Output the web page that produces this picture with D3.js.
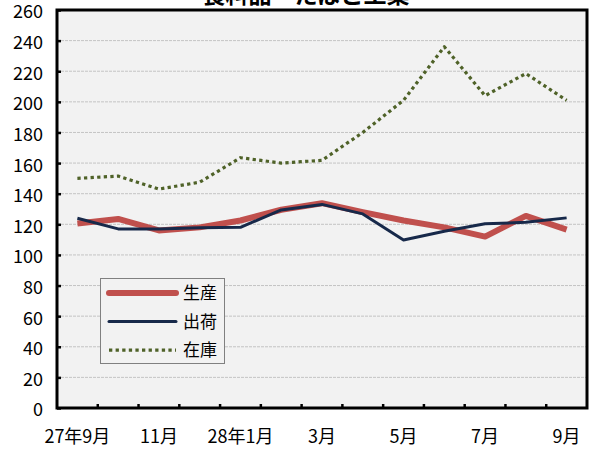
<!DOCTYPE html>
<html>
<head>
<meta charset="utf-8">
<script src="https://cdn.jsdelivr.net/npm/d3@7"></script>
<style>
  body { margin: 0; background: #fff; }
  svg { display: block; font-family: "Noto Sans CJK JP", "DejaVu Sans", sans-serif; }
</style>
</head>
<body>
<svg id="chart"></svg>
<script>
"use strict";

// months on the x axis (labels shown every other month)
var months = ["27年9月", "10月", "11月", "12月", "28年1月", "2月", "3月", "4月", "5月", "6月", "7月", "8月", "9月"];
var shownLabels = ["27年9月", "11月", "28年1月", "3月", "5月", "7月", "9月"];

var production = [120.5, 123.5, 116, 118, 122.5, 129.5, 133.8, 128, 122.5, 118, 112, 125.5, 116.5];
var shipment   = [124, 117, 117, 117.8, 118, 129.4, 133, 126.8, 109.8, 115.5, 120.3, 121.3, 124.2];
var inventory  = [150, 151.5, 143, 147.5, 163.5, 160, 161.8, 180, 201, 236, 204, 218.5, 201];

var yTicks = d3.range(0, 261, 20);

var seriesList = [
    {name: "生産", values: production, color: "#c0504d", width: 6, dash: null},
    {name: "出荷", values: shipment,   color: "#17294a", width: 3, dash: null},
    {name: "在庫", values: inventory,  color: "#4f6228", width: 3.2, dash: "3.3,3.3"}
];

var width = 592, height = 450;
var plotLeft = 57, plotRight = 587, plotTop = 10, plotBottom = 408;

var svg = d3.select("#chart")
    .attr("width", width)
    .attr("height", height);

// title, mostly cut off at the top edge
svg.append("text")
    .attr("x", 306)
    .attr("y", 3)
    .attr("text-anchor", "middle")
    .style("font-size", "23px")
    .style("font-weight", "bold")
    .text("食料品・たばこ工業");

var x = d3.scaleBand()
    .domain(months)
    .range([plotLeft, plotRight]);

var y = d3.scaleLinear()
    .domain([0, 260])
    .range([plotBottom, plotTop]);

// plot background
svg.append("rect")
    .attr("x", plotLeft)
    .attr("y", plotTop)
    .attr("width", plotRight - plotLeft)
    .attr("height", plotBottom - plotTop)
    .style("fill", "#f2f2f2");

// grid lines
svg.append("g")
    .selectAll("line")
    .data(yTicks.filter(d => d > 0 && d < 260))
    .enter()
    .append("line")
    .attr("x1", plotLeft)
    .attr("x2", plotRight)
    .attr("y1", d => y(d))
    .attr("y2", d => y(d))
    .style("stroke", "#c4c4c4")
    .style("stroke-width", 1)
    .style("stroke-dasharray", "3,1");

// y axis, ticks inside
var yAxis = svg.append("g")
    .attr("transform", "translate(" + plotLeft + ",0)")
    .call(d3.axisRight(y).tickValues(yTicks).tickSize(4).tickFormat(""));
yAxis.select(".domain").remove();
yAxis.selectAll("line").style("stroke", "#000").style("stroke-width", 2.5);

svg.append("g")
    .selectAll("text")
    .data(yTicks)
    .enter()
    .append("text")
    .attr("x", 43)
    .attr("y", d => y(d) + 2)
    .attr("dy", "0.36em")
    .attr("text-anchor", "end")
    .style("font-size", "18px")
    .style("fill", "#000")
    .text(d => d);

// x axis: ticks at category boundaries, pointing up
var boundaries = months.slice(1).map(m => x(m));
svg.append("g")
    .selectAll("line")
    .data(boundaries)
    .enter()
    .append("line")
    .attr("x1", d => d)
    .attr("x2", d => d)
    .attr("y1", plotBottom)
    .attr("y2", plotBottom - 4)
    .style("stroke", "#000")
    .style("stroke-width", 2.5);

svg.append("g")
    .selectAll("text")
    .data(shownLabels)
    .enter()
    .append("text")
    .attr("x", d => x(d) + x.bandwidth() / 2)
    .attr("y", 443)
    .attr("text-anchor", "middle")
    .style("font-size", "18px")
    .style("fill", "#000")
    .text(d => d);

// lines
var line = d3.line()
    .x((d, i) => x(months[i]) + x.bandwidth() / 2)
    .y(d => y(d));

svg.append("g")
    .selectAll("path")
    .data(seriesList)
    .enter()
    .append("path")
    .attr("d", d => line(d.values))
    .style("fill", "none")
    .style("stroke", d => d.color)
    .style("stroke-width", d => d.width)
    .style("stroke-dasharray", d => d.dash)
    .style("stroke-linejoin", "round");

// frame
svg.append("rect")
    .attr("x", plotLeft)
    .attr("y", plotTop)
    .attr("width", plotRight - plotLeft)
    .attr("height", plotBottom - plotTop)
    .style("fill", "none")
    .style("stroke", "#000")
    .style("stroke-width", 3);

// legend
var legend = svg.append("g")
    .attr("transform", "translate(100,278)");

legend.append("rect")
    .attr("x", 0.5)
    .attr("y", 0.5)
    .attr("width", 124)
    .attr("height", 85)
    .style("fill", "#f2f2f2")
    .style("stroke", "#808080")
    .style("stroke-width", 1);

var items = legend.selectAll("g.item")
    .data(seriesList)
    .enter()
    .append("g")
    .attr("class", "item")
    .attr("transform", (d, i) => "translate(0," + (15 + i * 28.6) + ")");

items.append("line")
    .attr("x1", 9)
    .attr("x2", 76)
    .attr("y1", 0)
    .attr("y2", 0)
    .style("stroke", d => d.color)
    .style("stroke-width", d => d.width)
    .style("stroke-dasharray", d => d.dash)
    .style("stroke-linecap", d => d.dash ? "butt" : "round");

items.append("text")
    .attr("x", 83)
    .attr("y", 0)
    .attr("dy", "0.36em")
    .style("font-size", "17px")
    .style("fill", "#000")
    .text(d => d.name);
</script>
</body>
</html>
